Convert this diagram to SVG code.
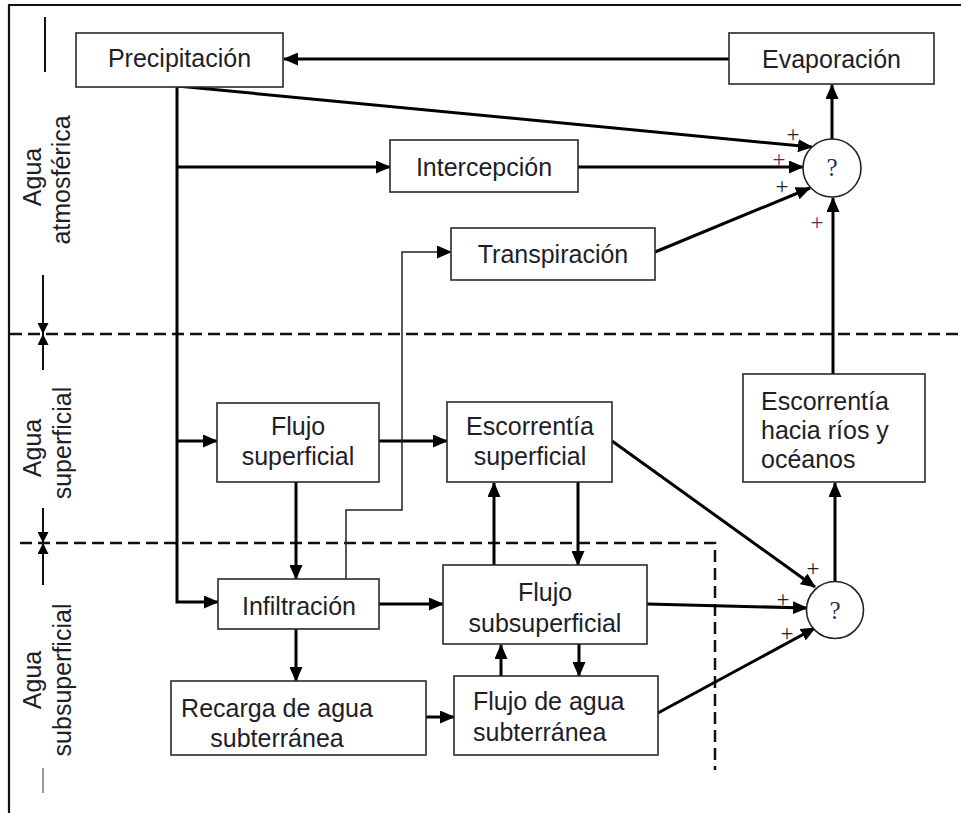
<svg xmlns="http://www.w3.org/2000/svg" width="961" height="813" viewBox="0 0 961 813">
<style>
.box{fill:#fff;stroke:#2a2a2a;stroke-width:1.6}
.t{font-family:"Liberation Sans",Arial,sans-serif;font-size:25px;fill:#1e1e28}
.c{text-anchor:middle}
.conn{fill:none;stroke:#000;stroke-width:3}
.thin{fill:none;stroke:#222;stroke-width:1.5}
.dash{fill:none;stroke:#111;stroke-width:2.5;stroke-dasharray:12,6}
.sum{fill:#fff;stroke:#222;stroke-width:1.6}
.q{font-family:"Liberation Serif","Times New Roman",serif;font-size:25px;fill:#2a3050;text-anchor:middle}
.p{font-family:"Liberation Serif","Times New Roman",serif;font-size:23px;fill:#222;text-anchor:middle}
.pp{fill:#5a2a5a}
.scale{fill:none;stroke:#111;stroke-width:2}
</style>
<defs>
<marker id="ah" markerUnits="userSpaceOnUse" markerWidth="15" markerHeight="13" refX="14" refY="6.5" orient="auto">
<path d="M0,0 L15,6.5 L0,13 z" fill="#000"/>
</marker>
<marker id="sh" markerUnits="userSpaceOnUse" markerWidth="11" markerHeight="11" refX="11" refY="5.5" orient="auto">
<path d="M0,0 L11,5.5 L0,11 z" fill="#000"/>
</marker>
</defs>
<rect width="961" height="813" fill="#fff"/>
<path d="M9,813 V5 H961" fill="none" stroke="#111" stroke-width="2.2"/>

<g id="regions">
<path class="dash" d="M10,334 H961"/>
<path class="dash" d="M20,543 H715 V770"/>
<path class="scale" d="M45,17 V72"/>
<path class="scale" d="M43,275 V334" marker-end="url(#sh)"/>
<path class="scale" d="M43,370 V334" marker-end="url(#sh)"/>
<path class="scale" d="M43,508 V543" marker-end="url(#sh)"/>
<path class="scale" d="M43,585 V543" marker-end="url(#sh)"/>
<path d="M43,768 V793" fill="none" stroke="#777" stroke-width="1.5"/>
<text class="t c" transform="translate(41,177) rotate(-90)">Agua</text>
<text class="t c" transform="translate(70,180) rotate(-90)">atmosférica</text>
<text class="t c" transform="translate(41,448) rotate(-90)">Agua</text>
<text class="t c" transform="translate(71,443) rotate(-90)">superficial</text>
<text class="t c" transform="translate(41,680) rotate(-90)">Agua</text>
<text class="t c" transform="translate(71,680) rotate(-90)">subsuperficial</text>
</g>

<g id="connectors">
<path class="conn" d="M729,59 L284,59" marker-end="url(#ah)"/>
<path class="conn" d="M832,139 L832,85" marker-end="url(#ah)"/>
<path class="conn" d="M177,86 L812,147" marker-end="url(#ah)"/>
<path class="conn" d="M578,167 L803,167" marker-end="url(#ah)"/>
<path class="conn" d="M655,252 L810,188" marker-end="url(#ah)"/>
<path class="conn" d="M833,374 L833,198" marker-end="url(#ah)"/>
<path class="conn" d="M177,86 V602 H218" marker-end="url(#ah)"/>
<path class="conn" d="M177,167 H390" marker-end="url(#ah)"/>
<path class="conn" d="M177,441 H217" marker-end="url(#ah)"/>
<path class="conn" d="M379,441 H447" marker-end="url(#ah)"/>
<path class="conn" d="M296,482 V579" marker-end="url(#ah)"/>
<path class="thin" d="M346,579 V510 H402 V252 H451" marker-end="url(#ah)"/>
<path class="conn" d="M379,604 H443" marker-end="url(#ah)"/>
<path class="conn" d="M494,565 V483" marker-end="url(#ah)"/>
<path class="conn" d="M578,482 V565" marker-end="url(#ah)"/>
<path class="conn" d="M612,441 L815,587" marker-end="url(#ah)"/>
<path class="conn" d="M647,604 L807,608" marker-end="url(#ah)"/>
<path class="conn" d="M658,713 L815,628" marker-end="url(#ah)"/>
<path class="conn" d="M835,581 V483" marker-end="url(#ah)"/>
<path class="conn" d="M296,629 V681" marker-end="url(#ah)"/>
<path class="conn" d="M426,717 H454" marker-end="url(#ah)"/>
<path class="conn" d="M501,676 V645" marker-end="url(#ah)"/>
<path class="conn" d="M579,644 V676" marker-end="url(#ah)"/>
</g>

<g id="precipitacion"><rect class="box" x="76" y="33" width="207" height="54"/><text class="t c" x="179.5" y="67">Precipitación</text></g>
<g id="evaporacion"><rect class="box" x="729" y="33" width="205" height="51"/><text class="t c" x="831.5" y="68">Evaporación</text></g>
<g id="intercepcion"><rect class="box" x="390" y="140" width="188" height="52"/><text class="t c" x="484" y="176">Intercepción</text></g>
<g id="transpiracion"><rect class="box" x="451" y="228" width="204" height="52"/><text class="t c" x="553" y="263">Transpiración</text></g>
<g id="flujo-superficial"><rect class="box" x="217" y="403" width="162" height="79"/><text class="t c" x="298" y="435">Flujo</text><text class="t c" x="298" y="465">superficial</text></g>
<g id="escorrentia-superficial"><rect class="box" x="447" y="402" width="165" height="80"/><text class="t c" x="530" y="435">Escorrentía</text><text class="t c" x="530" y="465">superficial</text></g>
<g id="escorrentia-rios"><rect class="box" x="743" y="374" width="182" height="108"/><text class="t" x="761" y="410">Escorrentía</text><text class="t" x="761" y="439">hacia ríos y</text><text class="t" x="761" y="468">océanos</text></g>
<g id="infiltracion"><rect class="box" x="218" y="579" width="161" height="50"/><text class="t c" x="299" y="615">Infiltración</text></g>
<g id="flujo-subsuperficial"><rect class="box" x="443" y="565" width="204" height="79"/><text class="t c" x="545" y="601">Flujo</text><text class="t c" x="545" y="632">subsuperficial</text></g>
<g id="recarga"><rect class="box" x="171" y="681" width="255" height="74"/><text class="t c" x="277" y="717">Recarga de agua</text><text class="t c" x="277" y="747">subterránea</text></g>
<g id="flujo-agua-subterranea"><rect class="box" x="454" y="676" width="204" height="79"/><text class="t" x="473" y="710">Flujo de agua</text><text class="t" x="473" y="741">subterránea</text></g>

<g id="suma-atmosferica">
<circle class="sum" cx="832" cy="168" r="29"/>
<text class="q" x="832" y="176">?</text>
<text class="p" x="793" y="142">+</text>
<text class="p pp" x="779" y="167">+</text>
<text class="p" x="782" y="194">+</text>
<text class="p pp" x="817" y="230">+</text>
</g>
<g id="suma-superficial">
<circle class="sum" cx="835" cy="610" r="28.5"/>
<text class="q" x="835" y="619">?</text>
<text class="p" x="813" y="576">+</text>
<text class="p" x="783" y="607">+</text>
<text class="p" x="787" y="641">+</text>
</g>
</svg>
